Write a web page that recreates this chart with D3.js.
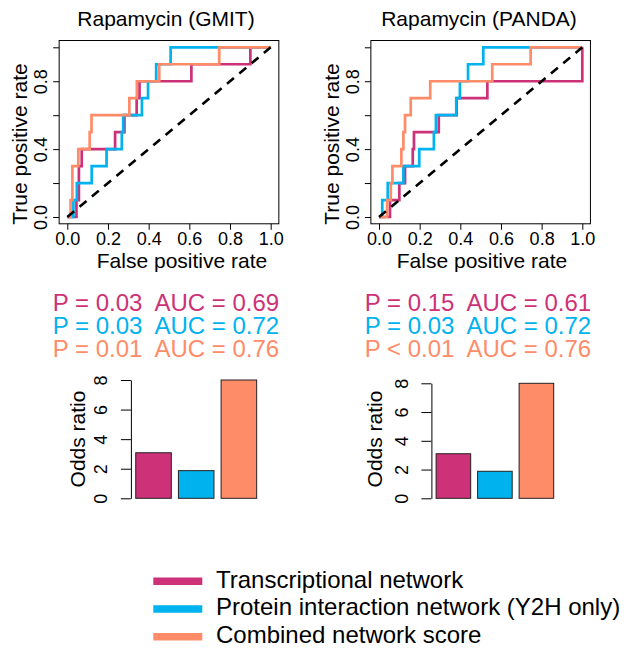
<!DOCTYPE html>
<html>
<head>
<meta charset="utf-8">
<script src="https://cdn.jsdelivr.net/npm/d3@7"></script>
<style>
  html, body { margin: 0; padding: 0; background: #fff; }
  svg text { font-family: 'Liberation Sans', Arial, Helvetica, sans-serif; white-space: pre; }
</style>
</head>
<body>
<svg id="chart" width="631" height="649"></svg>
<script>
// ---------------- data ----------------
const panelTitles = ["Rapamycin (GMIT)", "Rapamycin (PANDA)"];
const seriesNames = ["Transcriptional network", "Protein interaction network (Y2H only)", "Combined network score"];
const seriesColors = ["#CD3278", "#00B2EE", "#FF8C69"];
const rocTicks = [0, 0.2, 0.4, 0.6, 0.8, 1.0];
const rocYLabelled = [0, 0.4, 0.8];

// ROC vertices [false positive rate, true positive rate]
const gmitTranscriptional = [[0,0],[0.045,0],[0.045,0.1],[0.057,0.1],[0.057,0.3],[0.071,0.3],[0.071,0.4],[0.235,0.4],[0.235,0.5],[0.281,0.5],[0.281,0.6],[0.341,0.6],[0.341,0.7],[0.355,0.7],[0.355,0.8],[0.61,0.8],[0.61,0.9],[0.9,0.9],[0.9,1.0],[1,1]];
const gmitProtein = [[0,0],[0.03,0],[0.03,0.1],[0.047,0.1],[0.047,0.2],[0.12,0.2],[0.12,0.3],[0.193,0.3],[0.193,0.4],[0.268,0.4],[0.268,0.5],[0.275,0.5],[0.275,0.6],[0.367,0.6],[0.367,0.7],[0.397,0.7],[0.397,0.8],[0.437,0.8],[0.437,0.9],[0.508,0.9],[0.508,1.0],[1,1]];
const gmitCombined = [[0,0],[0.016,0],[0.016,0.1],[0.025,0.1],[0.025,0.3],[0.054,0.3],[0.054,0.4],[0.11,0.4],[0.11,0.5],[0.119,0.5],[0.119,0.6],[0.305,0.6],[0.305,0.7],[0.342,0.7],[0.342,0.8],[0.452,0.8],[0.452,0.9],[0.747,0.9],[0.747,1.0],[1,1]];

const pandaTranscriptional = [[0,0],[0.054,0],[0.054,0.1],[0.1,0.1],[0.1,0.2],[0.128,0.2],[0.128,0.3],[0.166,0.3],[0.166,0.4],[0.172,0.4],[0.172,0.5],[0.294,0.5],[0.294,0.6],[0.382,0.6],[0.382,0.7],[0.533,0.7],[0.533,0.8],[1,0.8],[1,1]];
const pandaProtein = [[0,0],[0.016,0],[0.016,0.1],[0.043,0.1],[0.043,0.2],[0.12,0.2],[0.12,0.3],[0.198,0.3],[0.198,0.4],[0.27,0.4],[0.27,0.5],[0.28,0.5],[0.28,0.6],[0.38,0.6],[0.38,0.7],[0.398,0.7],[0.398,0.8],[0.438,0.8],[0.438,0.9],[0.513,0.9],[0.513,1.0],[1,1]];
const pandaCombined = [[0,0],[0.04,0],[0.04,0.1],[0.058,0.1],[0.058,0.2],[0.066,0.2],[0.066,0.3],[0.11,0.3],[0.11,0.4],[0.12,0.4],[0.12,0.5],[0.128,0.5],[0.128,0.6],[0.156,0.6],[0.156,0.7],[0.252,0.7],[0.252,0.8],[0.557,0.8],[0.557,0.9],[0.746,0.9],[0.746,1.0],[1,1]];

const statsGMIT = ["P = 0.03  AUC = 0.69", "P = 0.03  AUC = 0.72", "P = 0.01  AUC = 0.76"];
const statsPANDA = ["P = 0.15  AUC = 0.61", "P = 0.03  AUC = 0.72", "P < 0.01  AUC = 0.76"];

const oddsGMIT = [3.08, 1.87, 8.0];
const oddsPANDA = [3.1, 1.88, 8.0];
const barTicks = [0, 2, 4, 6, 8];

// ---------------- drawing ----------------
const svg = d3.select("#chart");
const FONT = "'Liberation Sans', Arial, Helvetica, sans-serif";

const panels = [
  { title: panelTitles[0], curves: [gmitTranscriptional, gmitProtein, gmitCombined], stats: statsGMIT, odds: oddsGMIT,
    x0: 67.3, x1: 270.7, titleX: 166, xlabX: 182, ylabX: 27, ylabY: 144, yTickBase: 47, statX: 166,
    barAxisX: 130.9, barEnd: 261.5, barY0: 498.3, barY8: 380, barTickBase: 106.7, barLabBase: 85 },
  { title: panelTitles[1], curves: [pandaTranscriptional, pandaProtein, pandaCombined], stats: statsPANDA, odds: oddsPANDA,
    x0: 379, x1: 582.3, titleX: 479, xlabX: 482, ylabX: 339, ylabY: 144, yTickBase: 359, statX: 478,
    barAxisX: 431.4, barEnd: 558.4, barY0: 498.3, barY8: 383.3, barTickBase: 408.3, barLabBase: 382 }
];

const rocY0 = 217, rocY1 = 47.3;

panels.forEach(p => {
  const ext = 0.04;
  const x = d3.scaleLinear().domain([0, 1]).range([p.x0, p.x1]);
  const y = d3.scaleLinear().domain([0, 1]).range([rocY0, rocY1]);
  const g = svg.append("g");

  // title
  g.append("text").attr("x", p.titleX).attr("y", 26).attr("text-anchor", "middle")
    .attr("font-size", 21).attr("fill", "#000").text(p.title);

  // box
  g.append("rect")
    .attr("x", x(-ext)).attr("y", y(1 + ext))
    .attr("width", x(1 + ext) - x(-ext)).attr("height", y(-ext) - y(1 + ext))
    .attr("fill", "none").attr("stroke", "#000").attr("stroke-width", 1);

  // x axis
  const xa = g.append("g").attr("transform", `translate(0,${y(-ext)})`)
    .call(d3.axisBottom(x).tickValues(rocTicks).tickFormat(d3.format(".1f")).tickSize(6).tickPadding(4));
  xa.select(".domain").remove();
  xa.selectAll("text").attr("font-size", 18).attr("font-family", FONT).attr("fill", "#000").attr("dy", null).attr("y", 21.5);
  xa.selectAll("line").attr("stroke", "#000");

  // y axis
  const ya = g.append("g").attr("transform", `translate(${x(-ext)},0)`)
    .call(d3.axisLeft(y).tickValues(rocTicks)
      .tickFormat(d => rocYLabelled.some(v => Math.abs(v - d) < 1e-9) ? d3.format(".1f")(d) : "")
      .tickSize(6));
  ya.select(".domain").remove();
  ya.selectAll("line").attr("stroke", "#000");
  const yOff = p.yTickBase - x(-ext);
  ya.selectAll("text").attr("font-size", 18).attr("font-family", FONT).attr("fill", "#000")
    .attr("text-anchor", "middle").attr("dy", null).attr("x", 0).attr("y", yOff)
    .attr("transform", "rotate(-90)");

  // axis titles
  g.append("text").attr("x", p.xlabX).attr("y", 268).attr("text-anchor", "middle")
    .attr("font-size", 21).text("False positive rate");
  g.append("text").attr("transform", `translate(${p.ylabX},${p.ylabY}) rotate(-90)`)
    .attr("text-anchor", "middle").attr("font-size", 21).text("True positive rate");

  // curves
  const line = d3.line().x(d => x(d[0])).y(d => y(d[1]));
  p.curves.forEach((c, i) => {
    g.append("path").datum(c).attr("d", line).attr("fill", "none")
      .attr("stroke", seriesColors[i]).attr("stroke-width", 2.7).attr("stroke-linejoin", "miter");
  });
  // diagonal
  g.append("path").datum([[0, 0], [1, 1]]).attr("d", line).attr("fill", "none")
    .attr("stroke", "#000").attr("stroke-width", 2.6).attr("stroke-dasharray", "9,7");

  // stats text
  p.stats.forEach((s, i) => {
    g.append("text").attr("x", p.statX).attr("y", 310.5 + i * 23).attr("text-anchor", "middle")
      .attr("font-size", 24).attr("fill", seriesColors[i]).attr("xml:space", "preserve").text(s);
  });

  // bar chart
  const bx = d3.scaleBand().domain(seriesNames).range([p.barAxisX, p.barEnd])
    .paddingInner(0.2 / 1.2).paddingOuter(0.1133);
  const by = d3.scaleLinear().domain([0, 8]).range([p.barY0, p.barY8]);
  g.selectAll(null).data(p.odds).enter().append("rect")
    .attr("x", (d, i) => bx(seriesNames[i])).attr("width", bx.bandwidth())
    .attr("y", d => by(d)).attr("height", d => by(0) - by(d))
    .attr("fill", (d, i) => seriesColors[i]).attr("stroke", "#222").attr("stroke-width", 1);
  const ba = g.append("g").attr("transform", `translate(${p.barAxisX},0)`)
    .call(d3.axisLeft(by).tickValues(barTicks).tickSize(10).tickSizeOuter(0));
  ba.select(".domain").attr("stroke", "#000");
  ba.selectAll("line").attr("stroke", "#000");
  ba.selectAll("text").attr("font-size", 18).attr("font-family", FONT).attr("fill", "#000")
    .attr("text-anchor", "middle").attr("dy", null).attr("x", 0).attr("y", p.barTickBase - p.barAxisX)
    .attr("transform", "rotate(-90)");
  g.append("text").attr("transform", `translate(${p.barLabBase},439) rotate(-90)`)
    .attr("text-anchor", "middle").attr("font-size", 21).text("Odds ratio");
});

// legend
const lg = svg.append("g");
seriesNames.forEach((n, i) => {
  const cy = 581.2 + i * 27.8;
  lg.append("line").attr("x1", 153.3).attr("x2", 202.3).attr("y1", cy).attr("y2", cy)
    .attr("stroke", seriesColors[i]).attr("stroke-width", 7.5);
  lg.append("text").attr("x", 216).attr("y", cy + 6.3).attr("font-size", 24).attr("fill", "#000").text(n);
});
</script>
</body>
</html>
